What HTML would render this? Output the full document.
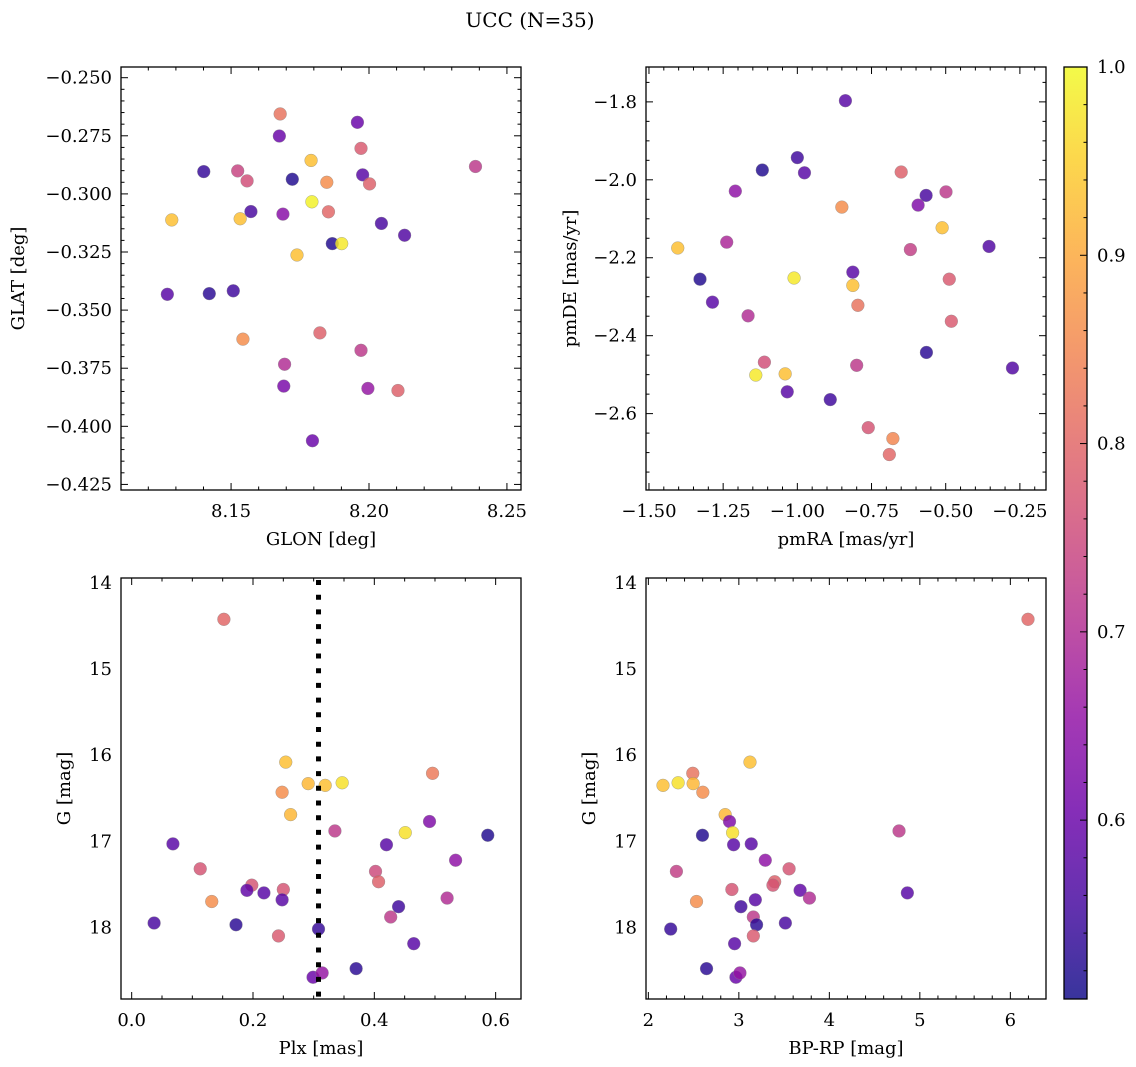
<!DOCTYPE html>
<html><head><meta charset="utf-8"><style>
html,body{margin:0;padding:0;background:#fff;}
svg{display:block;font-family:"DejaVu Serif","Liberation Serif",serif;}
</style></head><body>
<svg id="fig" width="1136" height="1067" viewBox="0 0 1136 1067" xmlns="http://www.w3.org/2000/svg">
<text x="530" y="27" font-size="20" text-anchor="middle">UCC (N=35)</text>
</svg>
<script>
// ---- data ----
const glon = [8.1678,8.1958,8.1675,8.1971,8.1790,8.2386,8.1401,8.1524,8.1558,8.1722,8.1847,8.1977,8.2002,8.1793,8.1572,8.1688,8.1853,8.1285,8.1533,8.2045,8.2129,8.1867,8.1901,8.1739,8.1269,8.1421,8.1508,8.1543,8.1822,8.1971,8.1694,8.1691,8.1996,8.2105,8.1795];
const glat = [-0.2656,-0.2692,-0.2751,-0.2804,-0.2856,-0.2882,-0.2904,-0.2901,-0.2944,-0.2937,-0.2950,-0.2918,-0.2957,-0.3034,-0.3076,-0.3087,-0.3077,-0.3112,-0.3107,-0.3127,-0.3178,-0.3214,-0.3214,-0.3263,-0.3432,-0.3429,-0.3417,-0.3625,-0.3598,-0.3673,-0.3733,-0.3827,-0.3837,-0.3846,-0.4062];
const probA = [0.82,0.60,0.60,0.78,0.93,0.72,0.54,0.74,0.76,0.52,0.86,0.58,0.79,0.99,0.56,0.64,0.80,0.93,0.93,0.56,0.57,0.52,0.98,0.93,0.58,0.53,0.55,0.86,0.79,0.72,0.70,0.62,0.66,0.79,0.60];

const pmra = [-0.838,-1.000,-1.118,-0.976,-0.650,-1.209,-0.566,-0.499,-0.593,-0.850,-0.512,-1.403,-1.238,-0.619,-0.354,-1.328,-1.011,-0.813,-0.813,-0.488,-1.286,-0.796,-1.166,-0.481,-0.565,-0.275,-1.111,-0.800,-1.140,-1.041,-1.034,-0.889,-0.761,-0.678,-0.690];
const pmde = [-1.797,-1.943,-1.975,-1.982,-1.980,-2.029,-2.040,-2.031,-2.065,-2.070,-2.123,-2.175,-2.160,-2.179,-2.171,-2.255,-2.252,-2.237,-2.271,-2.255,-2.314,-2.322,-2.349,-2.363,-2.443,-2.483,-2.468,-2.476,-2.501,-2.498,-2.544,-2.564,-2.636,-2.664,-2.705];
const probB = [0.58,0.55,0.52,0.58,0.79,0.65,0.56,0.72,0.63,0.86,0.93,0.93,0.69,0.73,0.57,0.52,0.98,0.58,0.93,0.78,0.58,0.82,0.70,0.78,0.53,0.57,0.76,0.72,0.98,0.93,0.58,0.55,0.77,0.85,0.80];

const plx = [0.152,0.254,0.291,0.319,0.347,0.248,0.262,0.496,0.335,0.451,0.491,0.587,0.068,0.420,0.534,0.113,0.402,0.407,0.198,0.190,0.218,0.250,0.248,0.132,0.520,0.440,0.427,0.037,0.172,0.308,0.242,0.465,0.370,0.299,0.314];
const gmagC = [14.42,16.08,16.33,16.35,16.32,16.43,16.69,16.21,16.88,16.90,16.77,16.93,17.03,17.04,17.22,17.32,17.35,17.47,17.51,17.57,17.60,17.56,17.68,17.70,17.66,17.76,17.88,17.95,17.97,18.02,18.10,18.19,18.48,18.58,18.53];
const probC = [0.80,0.93,0.92,0.93,0.97,0.86,0.92,0.83,0.72,0.97,0.63,0.52,0.58,0.58,0.65,0.77,0.75,0.79,0.77,0.59,0.58,0.77,0.58,0.86,0.70,0.55,0.72,0.56,0.53,0.54,0.78,0.58,0.53,0.60,0.66];

const bprp = [6.195,3.123,2.491,2.162,2.329,2.495,2.602,2.849,2.897,2.931,2.598,2.942,3.137,4.770,3.292,2.310,3.555,3.396,3.377,2.923,3.677,3.780,4.862,2.532,3.182,3.023,3.160,3.196,3.514,2.247,3.160,2.953,2.643,2.968,3.012];
const gmagD = [14.42,16.08,16.21,16.35,16.32,16.33,16.43,16.69,16.77,16.90,16.93,17.04,17.03,16.88,17.22,17.35,17.32,17.47,17.51,17.56,17.57,17.66,17.60,17.70,17.68,17.76,17.88,17.97,17.95,18.02,18.10,18.19,18.48,18.58,18.53];
const probD = [0.80,0.93,0.82,0.93,0.97,0.92,0.86,0.92,0.63,0.97,0.52,0.58,0.58,0.72,0.65,0.73,0.77,0.79,0.77,0.77,0.59,0.70,0.58,0.86,0.58,0.55,0.72,0.53,0.56,0.54,0.78,0.58,0.53,0.60,0.66];

const plxLine = [0.308];
const cbTicks = [0.6,0.7,0.8,0.9,1.0];

// ---- helpers ----
const NS = "http://www.w3.org/2000/svg";
const svg = document.getElementById('fig');
const FS = 18;
function mk(tag, attrs, parent){ const e=document.createElementNS(NS,tag); for(const k in attrs) e.setAttribute(k,attrs[k]); (parent||svg).appendChild(e); return e; }
const stops=[[0,[13,8,135]],[0.1,[65,4,157]],[0.2,[106,0,168]],[0.3,[143,13,164]],[0.4,[177,42,144]],[0.5,[204,71,120]],[0.6,[225,100,98]],[0.7,[242,132,75]],[0.8,[252,166,54]],[0.9,[252,206,37]],[1.0,[240,249,33]]];
function plasma(t){ t=Math.max(0,Math.min(1,t)); for(let i=1;i<stops.length;i++){ if(t<=stops[i][0]){ const a=stops[i-1],b=stops[i]; const f=(t-a[0])/(b[0]-a[0]); const c=a[1].map((v,j)=>Math.round(v+(b[1][j]-v)*f)); return `rgb(${c[0]},${c[1]},${c[2]})`; } } return 'rgb(240,249,33)'; }
const VMIN=0.505, VMAX=1.0;
function cmap(v){ return plasma((v-VMIN)/(VMAX-VMIN)); }
function fmt(v,d){ const s=Math.abs(v).toFixed(d); return (v<-1e-9?'\u2212':'')+s; }

function panel(o){
  const g=mk('g',{});
  
  
  const sx=v=>o.L+(v-o.x0)/(o.x1-o.x0)*(o.R-o.L);
  const sy=v=>o.B-(v-o.y0)/(o.y1-o.y0)*(o.B-o.T);
  const pg=mk('g',{},g);
  
  
  for(let i=0;i<o.xs.length;i++){
    const c=mk('circle',{cx:sx(o.xs[i]),cy:sy(o.ys[i]),r:6.4,fill:cmap(o.cs[i]),'fill-opacity':0.82,stroke:'#888','stroke-width':0.5,'stroke-opacity':0.7},pg);
    
    
  }
  if(o.extra) o.extra(g,sx,sy);
  mk('rect',{x:o.L,y:o.T,width:o.R-o.L,height:o.B-o.T,fill:'none',stroke:'#000','stroke-width':1.3},g);
  const tg=mk('g',{stroke:'#000','stroke-width':1},g);
  const eps=1e-9;
  for(let v=Math.ceil(o.x0/o.xmin-eps)*o.xmin; v<=o.x1+eps; v+=o.xmin){
    const isMaj=Math.abs(v/o.xmaj-Math.round(v/o.xmaj))<1e-6; const len=isMaj?7:3.5; const x=sx(v);
    if(x<o.L-0.5||x>o.R+0.5) continue;
    mk('line',{x1:x,x2:x,y1:o.B,y2:o.B-len},tg); mk('line',{x1:x,x2:x,y1:o.T,y2:o.T+len},tg);
  }
  for(let v=Math.ceil(o.y0/o.ymin-eps)*o.ymin; v<=o.y1+eps; v+=o.ymin){
    const isMaj=Math.abs(v/o.ymaj-Math.round(v/o.ymaj))<1e-6; const len=isMaj?7:3.5; const y=sy(v);
    if(y<o.T-0.5||y>o.B+0.5) continue;
    mk('line',{y1:y,y2:y,x1:o.L,x2:o.L+len},tg); mk('line',{y1:y,y2:y,x1:o.R,x2:o.R-len},tg);
  }
  o.xt.forEach(v=>{ const t=mk('text',{x:sx(v),y:o.B+27,'font-size':FS,'text-anchor':'middle'},g); t.textContent=fmt(v,o.xd);
      });
  o.yt.forEach(v=>{ const t=mk('text',{x:o.L-9,y:sy(v)+6,'font-size':FS,'text-anchor':'end'},g); t.textContent=fmt(v,o.yd);
      });
  const xl=mk('text',{x:(o.L+o.R)/2,y:o.B+55,'font-size':FS,'text-anchor':'middle'},g); xl.textContent=o.xlab;
   
  const yl=mk('text',{x:o.ylx,y:(o.T+o.B)/2,'font-size':FS,'text-anchor':'middle',transform:`rotate(-90 ${o.ylx} ${(o.T+o.B)/2})`},g); yl.textContent=o.ylab;
   
}

panel({name:'glon-glat-panel',L:121,R:521,T:67,B:490,x0:8.1101,x1:8.2551,y0:-0.4274,y1:-0.2454,xs:glon,ys:glat,cs:probA,
  xmaj:0.05,xmin:0.01,ymaj:0.025,ymin:0.005,xt:[8.15,8.20,8.25],xd:2,yt:[-0.250,-0.275,-0.300,-0.325,-0.350,-0.375,-0.400,-0.425],yd:3,
  xlab:'GLON [deg]',ylab:'GLAT [deg]',ylx:24});
panel({name:'pm-panel',L:646,R:1046,T:67,B:490,x0:-1.510,x1:-0.162,y0:-2.796,y1:-1.7105,xs:pmra,ys:pmde,cs:probB,
  xmaj:0.25,xmin:0.05,ymaj:0.2,ymin:0.05,xt:[-1.50,-1.25,-1.00,-0.75,-0.50,-0.25],xd:2,yt:[-1.8,-2.0,-2.2,-2.4,-2.6],yd:1,
  xlab:'pmRA [mas/yr]',ylab:'pmDE [mas/yr]',ylx:576});
panel({name:'plx-g-panel',L:121,R:521,T:578,B:999,x0:-0.0176,x1:0.6418,y0:18.833,y1:13.94,xs:plx,ys:gmagC,cs:probC,
  xmaj:0.2,xmin:0.05,ymaj:1,ymin:0.2,xt:[0.0,0.2,0.4,0.6],xd:1,yt:[14,15,16,17,18],yd:0,
  xlab:'Plx [mas]',ylab:'G [mag]',ylx:70,
  extra:(g,sx,sy)=>{ plxLine.forEach(v=>{ const l=mk('line',{x1:sx(v),x2:sx(v),y1:580,y2:999,stroke:'#000','stroke-width':5,'stroke-dasharray':'5 9.7'},g);
      }); }});
panel({name:'cmd-panel',L:646,R:1046,T:578,B:999,x0:1.974,x1:6.394,y0:18.833,y1:13.94,xs:bprp,ys:gmagD,cs:probD,
  xmaj:1,xmin:0.2,ymaj:1,ymin:0.2,xt:[2,3,4,5,6],xd:0,yt:[14,15,16,17,18],yd:0,
  xlab:'BP-RP [mag]',ylab:'G [mag]',ylx:595});

// ---- colorbar ----
const CB={L:1064,R:1087,T:67,B:999};
const defs=mk('defs',{});
const grad=mk('linearGradient',{id:'cbg',x1:0,y1:1,x2:0,y2:0},defs);
for(let i=0;i<=20;i++){ mk('stop',{offset:i/20,'stop-color':plasma(i/20),'stop-opacity':0.82},grad); }
const cbg=mk('g',{});


mk('rect',{x:CB.L,y:CB.T,width:CB.R-CB.L,height:CB.B-CB.T,fill:'url(#cbg)'},cbg);
mk('rect',{x:CB.L,y:CB.T,width:CB.R-CB.L,height:CB.B-CB.T,fill:'none',stroke:'#000','stroke-width':1.3},cbg);
const cy=v=>CB.B-(v-VMIN)/(VMAX-VMIN)*(CB.B-CB.T);
for(let v=0.52; v<=1.0001; v+=0.02){ const isMaj=Math.abs(v*10-Math.round(v*10))<1e-6; const y=cy(v);
  mk('line',{x1:CB.R,x2:CB.R-(isMaj?7:3.5),y1:y,y2:y,stroke:'#000','stroke-width':1},cbg); }
cbTicks.forEach(v=>{ const t=mk('text',{x:CB.R+10,y:cy(v)+6,'font-size':FS},cbg); t.textContent=v.toFixed(1);
    });
</script>
</body></html>
